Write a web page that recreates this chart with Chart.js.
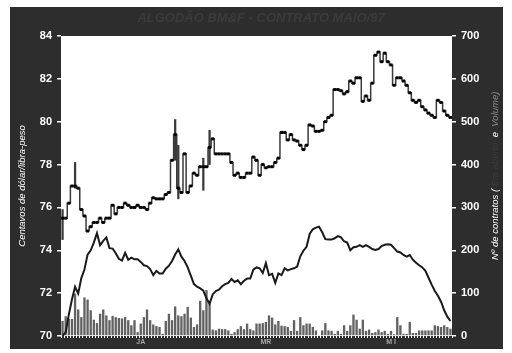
<!DOCTYPE html>
<html>
<head>
<meta charset="utf-8">
<script src="https://cdn.jsdelivr.net/npm/chart.js@4"></script>
<style>
  body { margin: 0; background: #fff; }
</style>
</head>
<body>
<canvas id="myChart" width="512" height="353"></canvas>
<script>
"use strict";

// month tick labels and the trading day they sit on
const monthLabels = ["JA", "MR", "M I"];
const monthDays = [25, 65, 105];

// volume (contracts), one per trading day
const volume = [35, 46, 40, 40, 99, 62, 44, 90, 85, 60, 38, 30, 52, 62, 48, 37, 47, 44, 42, 41,
  44, 37, 25, 37, 9, 29, 44, 62, 37, 27, 23, 21, 5, 35, 52, 37, 69, 48, 46, 52,
  68, 43, 21, 27, 82, 60, 107, 76, 15, 13, 17, 16, 16, 13, 5, 9, 16, 23, 16, 29,
  16, 13, 29, 29, 30, 33, 48, 43, 27, 35, 24, 23, 21, 12, 37, 12, 44, 25, 29, 29,
  21, 13, 2, 13, 30, 13, 12, 5, 12, 5, 25, 12, 25, 50, 38, 17, 38, 12, 15, 7,
  9, 15, 9, 12, 5, 12, 4, 44, 25, 5, 5, 33, 7, 7, 13, 13, 13, 13, 13, 25,
  23, 21, 25, 21, 17];

// open interest (contracts)
const openInterest = [0, 9, 50, 85, 115, 99, 135, 155, 190, 200, 218, 240, 212, 222, 230, 205, 204, 193, 180, 176,
  194, 178, 183, 179, 179, 173, 165, 163, 156, 142, 152, 146, 146, 157, 164, 175, 190, 202, 185, 175,
  160, 141, 121, 115, 111, 106, 88, 75, 97, 105, 108, 116, 121, 124, 133, 126, 130, 121, 129, 134,
  134, 155, 160, 158, 147, 170, 142, 145, 124, 146, 142, 158, 153, 156, 158, 162, 186, 199, 208, 238,
  249, 253, 255, 242, 226, 225, 225, 228, 233, 230, 221, 218, 200, 207, 208, 212, 208, 212, 208, 203,
  201, 203, 210, 213, 214, 213, 205, 197, 195, 189, 185, 189, 178, 171, 165, 160, 152, 136, 120, 105,
  94, 80, 60, 45, 35];

// closing price (US cents / lb)
const closePrice = [75.5, 75.5, 76.2, 77.0, 77.0, 76.9, 75.9, 75.6, 74.9, 75.1, 75.3, 75.3, 75.5, 75.3, 75.5, 75.5, 76.1, 75.7, 76.0, 76.0,
  76.2, 76.1, 76.0, 76.0, 76.1, 76.0, 76.0, 75.9, 76.2, 76.45, 76.4, 76.4, 76.4, 76.6, 76.7, 78.2, 79.4, 76.9, 76.7, 78.5,
  76.7, 77.0, 77.6, 77.5, 77.9, 77.9, 77.9, 78.8, 79.2, 78.5, 78.5, 78.5, 78.5, 78.5, 78.1, 77.5, 77.6, 77.4, 77.4, 77.6,
  77.6, 78.35, 78.2, 77.5, 78.0, 77.85, 77.9, 77.9, 78.1, 78.3, 79.5, 79.5, 79.15, 79.4, 79.15, 79.1, 78.9, 78.7, 78.9, 79.85,
  79.8, 79.55, 79.55, 79.6, 80.0, 80.2, 80.3, 81.5, 81.5, 81.45, 81.3, 81.4, 81.9, 81.8, 82.05, 82.05, 80.95, 81.2, 81.0, 81.8,
  83.1, 83.25, 82.8, 83.2, 82.8, 82.65, 81.7, 82.05, 82.05, 81.9, 81.7, 81.35, 81.0, 80.9, 81.0, 80.7, 80.55, 80.4, 80.3, 80.2,
  81.0, 80.9, 80.5, 80.3, 80.2];

// intraday ranges that stick out past the closes: [day, low, high]
const priceRanges = [[0, 74.5, 75.9], [4, 76.9, 78.1], [36, 78.2, 80.1], [37, 76.4, 78.9], [45, 76.8, 78.3], [47, 78.0, 79.6]];

const days = closePrice.map((v, i) => i);
const rangeData = days.map(() => null);
priceRanges.forEach(([d, lo, hi]) => { rangeData[d] = [lo, hi]; });

const BG = "#2d2d2d";

const frame = {
  id: "frame",
  beforeDraw(chart) {
    const { ctx, chartArea: a } = chart;
    ctx.save();
    ctx.fillStyle = "#fff";
    ctx.fillRect(0, 0, chart.width, chart.height);
    ctx.fillStyle = BG;
    ctx.fillRect(10, 7, 493, 342);
    ctx.fillStyle = "#fff";
    ctx.fillRect(a.left, a.top, a.right - a.left, a.bottom - a.top);
    ctx.restore();
  },
  afterDraw(chart) {
    const ctx = chart.ctx;
    ctx.save();
    ctx.font = "italic bold 13px 'Liberation Sans', Arial";
    ctx.fillStyle = "#3b3b3b";
    ctx.textAlign = "center";
    ctx.textBaseline = "middle";
    ctx.fillText("ALGODÃO BM&F - CONTRATO MAIO/97", 261, 18);

    // left axis title
    ctx.font = "italic 9.5px 'Liberation Sans', Arial";
    ctx.fillStyle = "#fff";
    ctx.translate(22, 186);
    ctx.rotate(-Math.PI / 2);
    ctx.fillText("Centavos de dólar/libra-peso", 0, 0);
    ctx.restore();

    // right axis title, coloured as a legend
    ctx.save();
    ctx.font = "italic 9.5px 'Liberation Sans', Arial";
    ctx.textBaseline = "middle";
    ctx.textAlign = "left";
    ctx.translate(495, 260);
    ctx.rotate(-Math.PI / 2);
    const parts = [["Nº de contratos ( ", "#fff"], ["Em aberto", "#3c3c3c"], ["  e  ", "#fff"], ["Volume)", "#8a8a8a"]];
    let x = 0;
    parts.forEach(([t, c]) => {
      ctx.fillStyle = c;
      ctx.fillText(t, x, 0);
      x += ctx.measureText(t).width;
    });
    ctx.restore();
  },
};

const ctx = document.getElementById("myChart").getContext("2d");
const myChart = new Chart(ctx, {
  data: {
    labels: days,
    datasets: [
      {
        type: "line",
        label: "Fechamento",
        data: closePrice,
        yAxisID: "y",
        stepped: "middle",
        borderColor: "#3a3a3a",
        borderWidth: 1.5,
        pointStyle: "rect",
        pointRadius: 2.1,
        pointBackgroundColor: "#000",
        pointBorderColor: "#000",
        pointBorderWidth: 0,
        order: 1,
      },
      {
        type: "bar",
        label: "Máx/Mín",
        data: rangeData,
        yAxisID: "y",
        grouped: false,
        barThickness: 1.6,
        backgroundColor: "#3a3a3a",
        order: 2,
      },
      {
        type: "line",
        label: "Em aberto",
        data: openInterest,
        yAxisID: "y1",
        borderColor: "#1a1a1a",
        borderWidth: 2,
        pointRadius: 0,
        tension: 0,
        order: 3,
      },
      {
        type: "bar",
        label: "Volume",
        data: volume,
        yAxisID: "y1",
        grouped: false,
        backgroundColor: "#626262",
        barPercentage: 0.75,
        categoryPercentage: 1,
        order: 4,
      },
    ],
  },
  options: {
    responsive: false,
    animation: false,
    layout: { padding: { left: 10, right: 9, top: 36, bottom: 4 } },
    plugins: { legend: { display: false }, title: { display: false }, tooltip: { enabled: false } },
    scales: {
      x: {
        type: "category",
        offset: true,
        afterFit: (s) => { s.height = 13; },
        border: { display: false },
        grid: { display: true, drawOnChartArea: false, color: "#fff", tickLength: 2, lineWidth: 1 },
        ticks: {
          autoSkip: false,
          maxRotation: 0,
          padding: 0,
          color: "#a8a8a8",
          font: { family: "'Liberation Sans', Arial", size: 7, weight: "bold" },
          callback: (v, i) => {
            const k = monthDays.indexOf(i);
            return k >= 0 ? monthLabels[k] : "";
          },
        },
      },
      y: {
        position: "left",
        min: 70,
        max: 84,
        afterFit: (s) => { s.width = 51; },
        border: { display: false },
        grid: { drawOnChartArea: false, color: "#fff", tickLength: 4, lineWidth: 1.5 },
        ticks: {
          stepSize: 2,
          padding: 5,
          color: "#fff",
          font: { family: "'Liberation Sans', Arial", size: 11, weight: "bold" },
        },
      },
      y1: {
        position: "right",
        min: 0,
        max: 700,
        afterFit: (s) => { s.width = 51; },
        border: { display: false },
        grid: { drawOnChartArea: false, color: "#fff", tickLength: 4, lineWidth: 1.5 },
        ticks: {
          stepSize: 100,
          padding: 5,
          color: "#fff",
          font: { family: "'Liberation Sans', Arial", size: 11, weight: "bold" },
        },
      },
    },
  },
  plugins: [frame],
});
</script>
</body>
</html>
